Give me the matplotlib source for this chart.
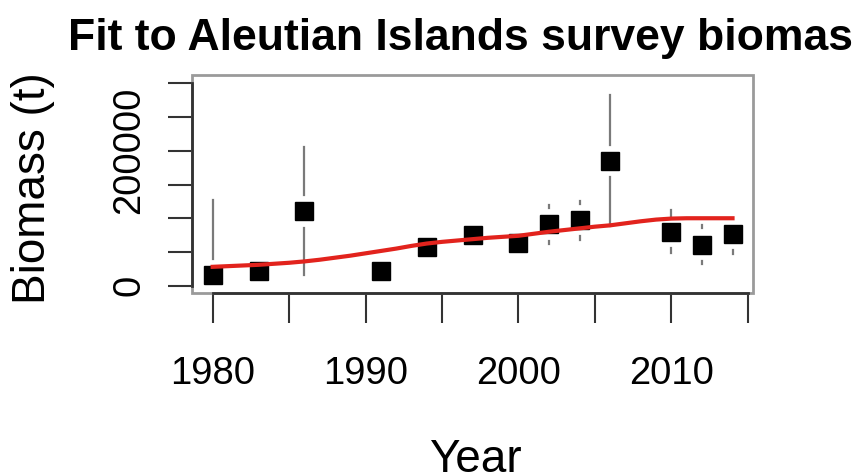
import matplotlib
matplotlib.use("Agg")
import matplotlib.pyplot as plt
from matplotlib.patches import Rectangle

plt.rcParams['font.family'] = ['Liberation Sans', 'DejaVu Sans']

# survey observations with confidence limits
years = [1980, 1983, 1986, 1991, 1994, 1997, 2000, 2002, 2004, 2006, 2010, 2012, 2014]
biomass = [16000, 22000, 110000, 22000, 58000, 75000, 63000, 91000, 97000, 185000, 80000, 61000, 77000]
lower = [0, 12000, 16000, 12000, 42000, 57000, 47000, 62000, 68000, 88000, 48000, 32000, 47000]
upper = [127000, 33000, 206000, 33000, 75000, 92000, 80000, 120000, 126000, 283000, 112000, 90000, 97000]

# model fit
fit_years = list(range(1980, 2015))
fit_biomass = [28000, 29000, 30000, 31000, 32500, 34000, 36000, 38500, 41500, 44500,
               48000, 51500, 55000, 59000, 62500, 65000, 67000, 69000, 71000, 72500,
               74000, 77000, 80000, 82500, 85000, 87500, 89500, 92500, 95500, 98000,
               99500, 100000, 100000, 100000, 100000]

xticks = [1980, 1985, 1990, 1995, 2000, 2005, 2010, 2015]
xlabels = ['1980', '', '1990', '', '2000', '', '2010', '']
yticks = [0, 50000, 100000, 150000, 200000, 250000, 300000]
ylabels = ['0', '', '', '', '200000', '', '']

gap = 24000  # gap around points, like plotCI

fig = plt.figure(figsize=(8.52, 4.74), dpi=100)
ax = fig.add_axes([192.3 / 852, 1 - 293 / 474, 560.4 / 852, 218 / 474])

for x, y, lo, hi in zip(years, biomass, lower, upper):
    if hi > y + gap:
        ax.plot([x, x], [y + gap, hi], color='#7a7a7a', lw=1.6, zorder=2)
    if lo < y - gap:
        ax.plot([x, x], [lo, y - gap], color='#7a7a7a', lw=1.6, zorder=2)

ax.plot(years, biomass, 's', color='black', ms=12.5, zorder=3)
ax.plot(fit_years, fit_biomass, color='#e2231d', lw=3, zorder=4)

ax.set_xlim(1978.67, 2015.32)
ax.set_ylim(-10800, 312300)

ax.set_xticks(xticks, xlabels)
ax.set_yticks(yticks, ylabels)
ax.tick_params(axis='x', direction='out', length=21.6, width=1.5, color='#333333',
               labelsize=27.5, pad=24)
ax.tick_params(axis='y', direction='out', length=17.3, width=1.5, color='#333333',
               labelsize=27.5, pad=15, labelrotation=90)
for lab in ax.get_yticklabels():
    lab.set_va('center')

for side in ['top', 'right']:
    ax.spines[side].set_visible(False)
ax.spines['left'].set_bounds(0, 300000)
ax.spines['bottom'].set_bounds(1980, 2015)
for side in ['left', 'bottom']:
    ax.spines[side].set_color('#333333')
    ax.spines[side].set_linewidth(2)
    ax.spines[side].set_zorder(6)
ax.add_patch(Rectangle((0, 0), 1, 1, transform=ax.transAxes, fill=False,
                       ec='#9a9a9a', lw=2, clip_on=False, zorder=5))

fig.text(33 / 852, 1 - 188 / 474, 'Biomass (t)', rotation=90, ha='center', va='center',
         fontsize=33)
fig.text(475 / 852, 1 - 472 / 474, 'Year', ha='center', va='baseline', fontsize=33)
fig.text(472.5 / 852, 1 - 50 / 474, 'Fit to Aleutian Islands survey biomass',
         ha='center', va='baseline', fontsize=32, fontweight='bold')

fig.savefig('out.png', dpi=100)
